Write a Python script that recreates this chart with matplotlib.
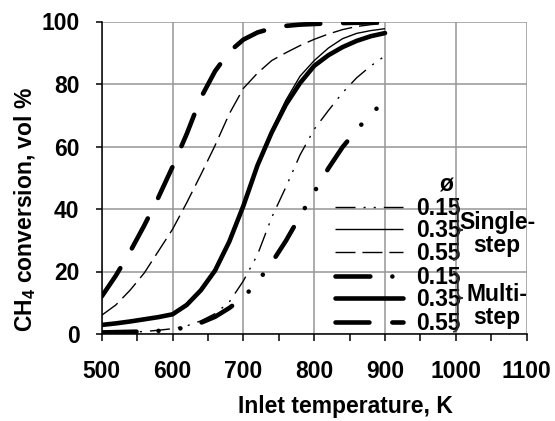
import matplotlib
matplotlib.use('Agg')
import matplotlib.pyplot as plt
from matplotlib.lines import Line2D
from matplotlib.path import Path
from matplotlib.patches import PathPatch
from matplotlib.ticker import MultipleLocator

plt.rcParams['font.family'] = ['Liberation Sans', 'DejaVu Sans']
plt.rcParams['font.weight'] = 'bold'

# ---------------- data ----------------
temperature = [500, 520, 540, 560, 580, 600, 620, 640, 660, 680, 700,
               720, 740, 760, 780, 800, 820, 840, 860, 880, 900]
single_015 = [0.3, 0.4, 0.6, 0.8, 1.2, 1.7, 2.6, 4.2, 6.5, 10.2, 17.0,
              25.4, 37.3, 47.0, 57.3, 65.5, 71.5, 77.2, 82.0, 85.8, 89.0]
single_035 = [2.9, 3.4, 4.0, 4.7, 5.4, 6.3, 9.5, 14.3, 20.6, 29.8, 41.5,
              54.3, 65.2, 74.8, 82.5, 87.5, 91.5, 94.5, 96.2, 97.1, 97.7]
single_055 = [6.0, 9.3, 14.0, 19.5, 26.5, 33.5, 42.0, 51.0, 60.3, 70.4, 78.6,
              83.5, 87.5, 90.0, 92.3, 94.3, 96.0, 97.4, 98.4, 99.0, 99.4]
multi_015 = [0.5, 0.6, 0.7, 0.8, 1.0, 1.3, 2.2, 3.6, 5.5, 8.3, 11.7,
             16.7, 22.8, 29.8, 37.7, 45.4, 53.0, 59.8, 65.3, 70.5, 74.5]
multi_035 = [2.9, 3.4, 4.0, 4.7, 5.4, 6.3, 9.3, 14.0, 20.3, 29.5, 41.0,
             54.0, 64.5, 73.4, 80.3, 85.8, 89.2, 91.8, 93.8, 95.3, 96.3]
multi_055 = [12.0, 18.7, 26.3, 34.7, 43.7, 53.5, 64.0, 75.6, 84.1, 90.3, 94.2,
             96.5, 97.8, 98.6, 99.0, 99.2, 99.4, 99.5, 99.6, 99.7, 99.8]
phi_labels = ['0.15', '0.35', '0.55', '0.15', '0.35', '0.55']
group_labels = ['Single-\nstep', 'Multi-\nstep']
x_ticks = [500, 600, 700, 800, 900, 1000, 1100]
y_ticks = [0, 20, 40, 60, 80, 100]

FS = 16.5
fig = plt.figure(figsize=(5.55, 4.21), dpi=100)
ax = fig.add_axes([101.7 / 555, 1 - 334 / 421, 425 / 555, 312.5 / 421])

THIN = 1.0
THICK = 3.3
styles = [
    dict(lw=THIN, dashes=(14.4, 5.8, 1.5, 5.8, 1.5, 5.8), dash_capstyle='butt'),
    dict(lw=THIN, ls='-', solid_capstyle='butt'),
    dict(lw=THIN, dashes=(14.4, 5.0), dash_capstyle='butt'),
    dict(lw=THICK, dashes=(7.6, 4.8, 0.01, 4.8, 0.01, 4.8), dash_capstyle='round'),
    dict(lw=THICK, ls='-', solid_capstyle='round'),
    dict(lw=THICK, dashes=(7.4, 5.0), dash_capstyle='round'),
]
series = [single_015, single_035, single_055, multi_015, multi_035, multi_055]

for vals, st in zip(series, styles):
    ax.plot(temperature, vals, color='black', zorder=3, **st)

ax.set_xlim(500, 1100)
ax.set_ylim(0, 100)
ax.set_xticks(x_ticks)
ax.xaxis.set_minor_locator(MultipleLocator(50))
ax.set_yticks(y_ticks)
ax.grid(True, which='major', color='#969696', lw=1.1, zorder=0)
ax.set_axisbelow(True)
for s in ['top', 'right']:
    ax.spines[s].set_visible(False)
for s in ['left', 'bottom']:
    ax.spines[s].set_linewidth(1.1)
ax.tick_params(axis='x', which='both', direction='out', length=5, width=1.1,
               pad=14, labelsize=FS)
ax.tick_params(axis='y', which='major', direction='out', length=4, width=1.1,
               pad=12, labelsize=FS)
for lab in ax.get_xticklabels() + ax.get_yticklabels():
    lab.set_fontweight('bold')

fig.text(345 / 555, 1 - 406 / 421, 'Inlet temperature, K', ha='center', va='center',
         fontsize=FS, fontweight='bold')
fig.text(25 / 555, 1 - 209 / 421, 'CH$_\\mathregular{4}$ conversion, vol %', rotation=90,
         ha='center', va='center', fontsize=FS, fontweight='bold')


def ax_x(px):
    return (px - 101.7) / 425


def ax_y(py):
    return (334 - py) / 312.5


# ---------------- legend (drawn by hand, Excel style) ----------------
row_px = [206.7, 229.0, 251.7, 275.7, 298.0, 322.0]
cap_half = 0.716 * FS * 100 / 72 / 2
for st, lab, py in zip(styles, phi_labels, row_px):
    ax.add_line(Line2D([ax_x(335), ax_x(403)], [ax_y(py), ax_y(py)], color='black',
                       transform=ax.transAxes, clip_on=False, zorder=5, **st))
    ax.text(ax_x(416.5), ax_y(py + cap_half), lab, ha='left', va='baseline',
            fontsize=FS, fontweight='bold', transform=ax.transAxes, zorder=5)

ax.text(ax_x(446), ax_y(185), 'ø', ha='center', va='center', fontsize=FS,
        fontweight='bold', transform=ax.transAxes)


def brace(x0, x1, ytop, ybot, ymid):
    xm = (x0 + x1) / 2
    r = 0.02
    verts = [(x0, ytop), (xm, ytop), (xm, ytop - r),
             (xm, ymid + r), (xm, ymid), (x1, ymid),
             (xm, ymid), (xm, ymid - r),
             (xm, ybot + r), (xm, ybot), (x0, ybot)]
    codes = [Path.MOVETO, Path.CURVE3, Path.CURVE3,
             Path.LINETO, Path.CURVE3, Path.CURVE3,
             Path.CURVE3, Path.CURVE3,
             Path.LINETO, Path.CURVE3, Path.CURVE3]
    return PathPatch(Path(verts, codes), fill=False, lw=1.3, ec='#303030',
                     transform=ax.transAxes, clip_on=False, zorder=6)


ax.add_patch(brace(ax_x(453), ax_x(462.7), ax_y(199), ax_y(260), ax_y(230)))
ax.add_patch(brace(ax_x(453), ax_x(462.7), ax_y(271.7), ax_y(331.7), ax_y(298)))

ax.text(ax_x(497), ax_y(234), group_labels[0], ha='center', va='center',
        multialignment='center', fontsize=FS, fontweight='bold', linespacing=0.95,
        transform=ax.transAxes)
ax.text(ax_x(497), ax_y(306), group_labels[1], ha='center', va='center',
        multialignment='center', fontsize=FS, fontweight='bold', linespacing=0.95,
        transform=ax.transAxes)

fig.savefig('out.png', dpi=100)
